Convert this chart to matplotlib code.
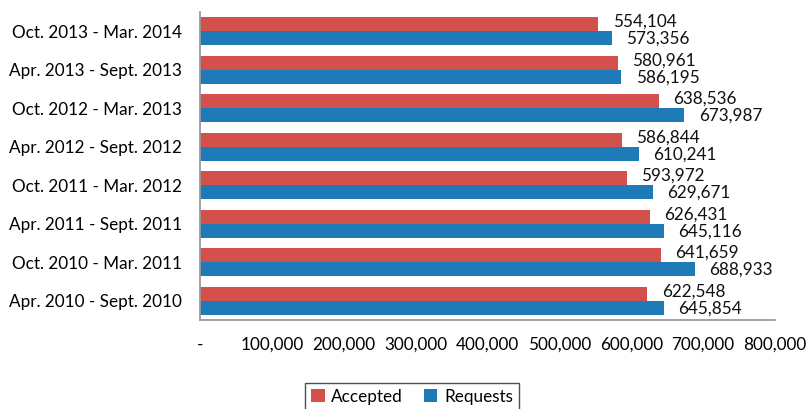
import matplotlib
matplotlib.use("Agg")
import matplotlib.pyplot as plt
import numpy as np
from matplotlib.ticker import FuncFormatter

categories = ["Oct. 2013 - Mar. 2014", "Apr. 2013 - Sept. 2013", "Oct. 2012 - Mar. 2013",
              "Apr. 2012 - Sept. 2012", "Oct. 2011 - Mar. 2012", "Apr. 2011 - Sept. 2011",
              "Oct. 2010 - Mar. 2011", "Apr. 2010 - Sept. 2010"]
accepted = [554104, 580961, 638536, 586844, 593972, 626431, 641659, 622548]
requests = [573356, 586195, 673987, 610241, 629671, 645116, 688933, 645854]
xticks = [0, 100000, 200000, 300000, 400000, 500000, 600000, 700000, 800000]

plt.rcParams['font.family'] = ['Lato', 'DejaVu Sans']
fig = plt.figure(figsize=(8.07, 4.09), dpi=100)
ax = fig.add_axes([200/807, 1-320/409, 575/807, 308/409])

red = "#D4504C"
blue = "#1F7BB8"
fs = 12.3
y = np.arange(len(categories))
h = 0.364
ax.barh(y - h/2, accepted, height=h, color=red, label="Accepted")
ax.barh(y + h/2, requests, height=h, color=blue, label="Requests")
for yi, a, r in zip(y, accepted, requests):
    ax.text(a + 20000, yi - h/2 - 0.06, f"{a:,}", va="center", ha="left", fontsize=fs, color="#111111")
    ax.text(r + 20000, yi + h/2 + 0.02, f"{r:,}", va="center", ha="left", fontsize=fs, color="#111111")

ax.set_ylim(len(categories) - 0.5, -0.5)
ax.set_xlim(0, 800000)
ax.set_yticks(y)
ax.set_yticklabels(categories, fontsize=fs)
ax.set_xticks(xticks)
ax.xaxis.set_major_formatter(FuncFormatter(lambda v, p: "-" if v == 0 else f"{int(v):,}"))
ax.tick_params(axis="x", length=0, pad=12, labelsize=fs)
ax.tick_params(axis="y", length=0, pad=13)
for s in ["top", "right"]:
    ax.spines[s].set_visible(False)
for s in ["left", "bottom"]:
    ax.spines[s].set_color("#9A9A9A")
    ax.spines[s].set_linewidth(1.3)

leg = fig.legend(loc="lower center", bbox_to_anchor=(412/807, -0.025), ncol=2, fontsize=fs,
                 frameon=True, fancybox=False, edgecolor="#222222", handlelength=0.8,
                 handleheight=0.8, columnspacing=1.2, handletextpad=0.4, borderpad=0.35)
leg.get_frame().set_linewidth(1.0)

fig.savefig("out.png", dpi=100)
